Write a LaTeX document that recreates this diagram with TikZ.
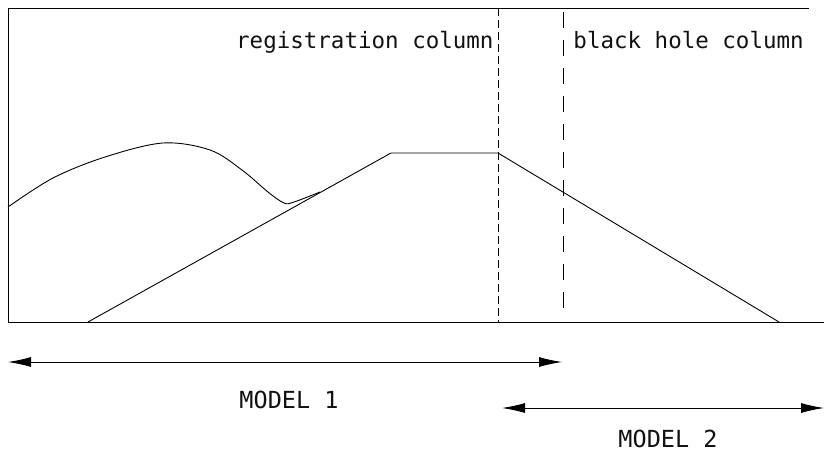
\documentclass[tikz,border=0pt]{standalone}
\usepackage{fontspec}
\setmonofont{DejaVu Sans Mono}
\usetikzlibrary{arrows.meta}
\definecolor{linecol}{HTML}{000000}
\definecolor{textcol}{HTML}{111111}

\begin{document}
\begin{tikzpicture}[x=1pt,y=-1pt,line width=0.9pt,
	lbl/.style={font=\ttfamily\fontsize{22.5}{26}\selectfont,text=textcol,inner sep=0pt},
	span/.style={{Latex[length=23pt,width=10pt]}-{Latex[length=23pt,width=10pt]},draw=linecol}]
\useasboundingbox (0,0) rectangle (824,455);
% frame and columns
\draw[linecol] (809,8) -- (8,8) -- (8,322) -- (824,322);
\draw[linecol,dash pattern=on 8pt off 4pt] (498,8) -- (498,322);
\draw[linecol,dash pattern=on 16pt off 12pt] (563,12) -- (563,308);
\node[lbl,anchor=base east] (reg) at (494,48) {registration column};
\node[lbl,anchor=base west] (bh) at (573,48) {black hole column};
% profiles
\draw[linecol] plot[smooth,tension=0.55] coordinates {(8,207) (53,178) (105,157) (163,143) (210,150) (242,170) (268,192) (284,203) (294,202) (320,192)};
\draw[linecol] (88,322) -- (391,153) -- (498,153) -- (779,322);
% model ranges
\foreach \from/\to/\ya/\name/\xl/\yl [count=\i] in {
	8/562/362/MODEL 1/289/408,
	502/824/408/MODEL 2/668/447%
	}{
	\coordinate (l\i) at (\from,\ya);
	\coordinate (r\i) at (\to,\ya);
	\draw[span] (l\i) -- (r\i);
	\node[lbl,font=\ttfamily\fontsize{23.5}{26}\selectfont,anchor=base] (model\i) at (\xl,\yl) {\name};
	}
\end{tikzpicture}
\end{document}
